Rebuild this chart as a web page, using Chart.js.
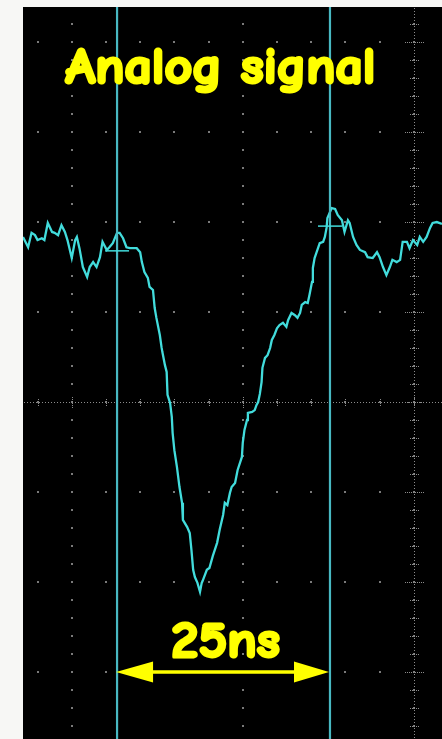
<!DOCTYPE html>
<html>
<head>
<meta charset="utf-8">
<title>Analog signal</title>
<script src="https://cdn.jsdelivr.net/npm/chart.js@4/dist/chart.umd.min.js"></script>
<style>
  html, body { margin: 0; padding: 0; background: #f7f7f5; }
  #wrap { width: 442px; height: 739px; position: relative; }
</style>
</head>
<body>
<div id="wrap"><canvas id="scope" width="442" height="739"></canvas></div>
<script>
// Captured pulse: time in ns, amplitude in mV (20 mV/div, 20 ns/div)
const timeNs = [
  -25.7, -25.1, -24.7, -24.3, -24.0, -23.5, -23.2, -22.8, -22.3, -22.0,
  -21.6, -21.2, -20.8, -20.5, -20.0, -19.6, -19.4, -19.1, -18.7, -18.2,
  -17.9, -17.5, -17.1, -16.7, -16.4, -15.9, -15.6, -15.2, -14.7, -14.4,
  -14.0, -13.6, -13.2, -12.4, -12.0, -11.8, -11.5, -11.1, -10.9, -10.5,
  -10.3, -10.1, -9.7, -9.5, -9.4, -9.1, -8.9, -8.8, -8.5, -8.3,
  -8.2, -8.0, -7.7, -7.4, -7.1, -7.0, -6.5, -6.2, -6.0, -5.8,
  -5.6, -5.3, -5.0, -4.8, -4.7, -4.2, -3.9, -3.5, -3.0, -2.7,
  -2.3, -2.1, -1.8, -1.5, -1.3, -0.9, -0.6, -0.1, 0.0, 0.2,
  0.5, 0.6, 1.1, 1.4, 1.6, 1.8, 2.0, 2.2, 2.3, 2.6,
  2.9, 3.2, 3.4, 3.7, 4.0, 4.3, 4.7, 5.1, 5.3, 5.7,
  6.1, 6.4, 6.7, 6.9, 7.3, 7.6, 7.8, 8.1, 8.2, 8.4,
  8.8, 9.0, 9.4, 9.6, 9.8, 9.9, 10.4, 10.8, 11.1, 11.6,
  11.9, 12.3, 12.5, 12.9, 13.3, 13.7, 14.3, 14.6, 15.2, 15.7,
  16.0, 16.4, 16.8, 17.2, 17.5, 18.0, 18.4, 18.7, 19.2, 19.5,
  19.9, 20.4, 20.7, 21.1, 21.5, 21.9, 22.2, 22.7, 23.3
];
const signalMv = [
  36.7, 34.4, 37.6, 37.1, 36.0, 36.4, 36.0, 39.8, 37.8, 37.6,
  37.1, 39.3, 37.8, 36.0, 32.0, 36.0, 36.7, 34.2, 30.0, 27.8,
  30.0, 31.1, 30.0, 32.2, 35.6, 33.8, 34.4, 35.3, 37.6, 37.6,
  36.4, 34.4, 34.2, 34.2, 33.3, 31.1, 28.9, 27.6, 25.6, 24.9,
  20.9, 18.7, 14.9, 12.2, 11.1, 8.2, 6.7, 1.6, -0.2, -3.3,
  -6.9, -10.7, -14.4, -18.9, -22.4, -26.2, -27.8, -29.1, -32.9, -37.3,
  -38.9, -40.2, -42.2, -40.2, -39.8, -37.3, -36.9, -34.2, -31.3, -28.4,
  -25.1, -22.4, -22.9, -20.2, -18.9, -18.0, -15.1, -12.2, -9.1, -6.2,
  -4.0, -2.4, -2.2, -1.8, -0.7, 0.0, 1.8, 4.4, 7.6, 9.8,
  10.4, 12.0, 13.8, 14.9, 16.4, 17.1, 17.6, 16.7, 18.2, 19.8,
  19.3, 18.7, 19.8, 21.6, 22.2, 22.0, 23.8, 26.7, 29.8, 32.0,
  34.2, 35.3, 35.6, 36.7, 38.7, 40.9, 43.1, 42.9, 41.6, 40.4,
  37.8, 40.4, 39.8, 36.7, 34.9, 33.8, 33.3, 32.2, 32.0, 33.3,
  32.2, 30.0, 28.2, 30.0, 31.6, 31.1, 31.6, 35.6, 35.6, 34.2,
  36.0, 34.9, 36.7, 35.6, 36.7, 38.7, 39.8, 40.0, 39.6
];

// Measurement cursors (ns) and their level markers (mV)
const cursorTimesNs = [-14.7, 10.2];
const cursorLevelsMv = [33.6, 39.1];
const spanLabel = '25ns';
const titleText = 'Analog signal';
const arrowLevelMv = -60;

// Screen graticule
const majorRowsMv = [-60, -40, -20, 0, 20, 40, 60, 80];
const majorColsNs = [-20, 0, 20];

const TRACE = '#42dcdc';
const CURSOR = '#48b8c2';
const YELLOW = '#ffff00';
const FONT = '"Comic Sans MS", "Comic Neue", "Open Sans", sans-serif';

const graticule = {
  id: 'graticule',
  beforeDatasetsDraw(chart) {
    const { ctx, chartArea: a, scales: { x, y } } = chart;
    ctx.save();
    ctx.fillStyle = '#000';
    ctx.fillRect(a.left, a.top, a.right - a.left, a.bottom - a.top);

    const dot = (px, py, c) => {
      ctx.fillStyle = c || '#7a7a7a';
      ctx.fillRect(Math.round(px) - 1, Math.round(py) - 1, 2, 2);
    };
    const tMax = x.max, vMax = y.max;

    // dots along major rows, every 4 ns
    for (const mv of majorRowsMv) {
      const py = y.getPixelForValue(mv);
      for (let t = -24; t <= tMax; t += 4) dot(x.getPixelForValue(t), py);
    }
    // dots along major columns, every 4 mV
    for (const t of majorColsNs) {
      const px = x.getPixelForValue(t);
      for (let mv = -72; mv <= vMax; mv += 4) dot(px, y.getPixelForValue(mv));
    }

    // centre horizontal axis: fine dotted line with ticks
    const y0 = Math.round(y.getPixelForValue(0));
    ctx.fillStyle = '#8c8c8c';
    for (let px = a.left + 1; px < a.right; px += 3) ctx.fillRect(px, y0, 1, 1);
    for (let t = -24; t <= tMax; t += 4) {
      const px = Math.round(x.getPixelForValue(t));
      const h = (t % 20 === 0) ? 5 : 3;
      for (let d = -h; d <= h; d += 2) ctx.fillRect(px, y0 + d, 1, 1);
    }

    // right vertical axis: fine dotted line with ticks
    const xr = Math.round(x.getPixelForValue(20));
    for (let py = a.top + 1; py < a.bottom; py += 3) ctx.fillRect(xr, py, 1, 1);
    for (let mv = -72; mv <= vMax; mv += 4) {
      const py = Math.round(y.getPixelForValue(mv));
      const w = (mv % 20 === 0) ? 9 : 4;
      for (let d = -w; d <= w; d += 2) ctx.fillRect(xr + d, py, 1, 1);
    }
    ctx.restore();
  }
};

const annotations = {
  id: 'annotations',
  afterDatasetsDraw(chart) {
    const { ctx, chartArea: a, scales: { x, y } } = chart;
    ctx.save();
    ctx.beginPath();
    ctx.rect(a.left, a.top, a.right - a.left, a.bottom - a.top);
    ctx.clip();

    // cursors
    const cx = cursorTimesNs.map(t => x.getPixelForValue(t));
    ctx.strokeStyle = CURSOR;
    ctx.lineWidth = 2.2;
    for (const px of cx) {
      ctx.beginPath();
      ctx.moveTo(px, a.top);
      ctx.lineTo(px, a.bottom);
      ctx.stroke();
    }
    // cursor level markers
    ctx.strokeStyle = TRACE;
    ctx.lineWidth = 1.5;
    cursorLevelsMv.forEach((mv, i) => {
      const py = y.getPixelForValue(mv);
      ctx.beginPath();
      ctx.moveTo(cx[i] - 12, py);
      ctx.lineTo(cx[i] + 12, py);
      ctx.stroke();
    });

    // text helper: heavy rounded lettering, scaled to the given box
    const drawText = (str, left, baseline, capH, width, weight) => {
      ctx.font = `bold 100px ${FONT}`;
      const asc = ctx.measureText('A').actualBoundingBoxAscent || 72;
      const size = 100 * (capH - weight) / asc;
      ctx.font = `bold ${size}px ${FONT}`;
      const m = ctx.measureText(str);
      const w = (m.actualBoundingBoxRight + m.actualBoundingBoxLeft) || m.width;
      ctx.save();
      ctx.translate(left + weight / 2, baseline - weight / 2);
      ctx.scale((width - weight) / w, 1);
      ctx.fillStyle = YELLOW;
      ctx.strokeStyle = YELLOW;
      ctx.lineWidth = weight;
      ctx.lineJoin = 'round';
      ctx.textBaseline = 'alphabetic';
      ctx.fillText(str, m.actualBoundingBoxLeft || 0, 0);
      ctx.strokeText(str, m.actualBoundingBoxLeft || 0, 0);
      ctx.restore();
    };

    drawText(titleText, 64, 84, 37, 310, 3);
    drawText(spanLabel, 172, 658, 37, 108, 3);

    // span arrow between cursors
    const ay = y.getPixelForValue(arrowLevelMv);
    const head = 36, half = 10.5;
    ctx.fillStyle = YELLOW;
    ctx.strokeStyle = YELLOW;
    ctx.lineWidth = 3.5;
    ctx.beginPath();
    ctx.moveTo(cx[0] + head - 2, ay);
    ctx.lineTo(cx[1] - head + 2, ay);
    ctx.stroke();
    ctx.beginPath();
    ctx.moveTo(cx[0] - 1, ay);
    ctx.lineTo(cx[0] + head, ay - half);
    ctx.lineTo(cx[0] + head, ay + half);
    ctx.closePath();
    ctx.fill();
    ctx.beginPath();
    ctx.moveTo(cx[1] - 1, ay);
    ctx.lineTo(cx[1] - head, ay - half);
    ctx.lineTo(cx[1] - head, ay + half);
    ctx.closePath();
    ctx.fill();
    ctx.restore();
  }
};

new Chart(document.getElementById('scope'), {
  type: 'line',
  data: {
    datasets: [{
      label: 'CH1',
      data: timeNs.map((t, i) => ({ x: t, y: signalMv[i] })),
      borderColor: TRACE,
      borderWidth: 2.3,
      pointRadius: 0,
      tension: 0,
      fill: false
    }]
  },
  options: {
    responsive: false,
    animation: false,
    devicePixelRatio: 1,
    layout: { padding: { left: 23, top: 7, right: 0, bottom: 0 } },
    scales: {
      x: { type: 'linear', min: -25.7, max: 23.3, display: false },
      y: { type: 'linear', min: -74.9, max: 87.8, display: false }
    },
    plugins: { legend: { display: false }, tooltip: { enabled: false } }
  },
  plugins: [graticule, annotations]
});
</script>
</body>
</html>
